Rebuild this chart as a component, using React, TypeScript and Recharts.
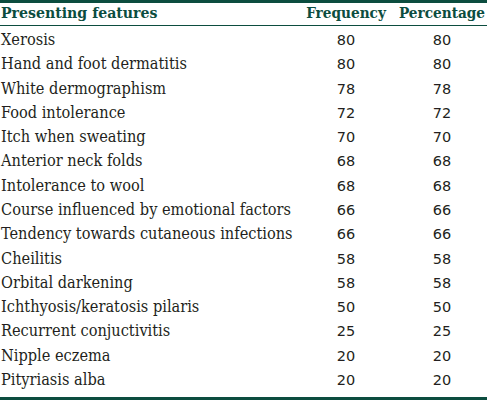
import { ScatterChart, Scatter, XAxis, YAxis, Customized } from 'recharts';

const features = [
  'Xerosis',
  'Hand and foot dermatitis',
  'White dermographism',
  'Food intolerance',
  'Itch when sweating',
  'Anterior neck folds',
  'Intolerance to wool',
  'Course influenced by emotional factors',
  'Tendency towards cutaneous infections',
  'Cheilitis',
  'Orbital darkening',
  'Ichthyosis/keratosis pilaris',
  'Recurrent conjuctivitis',
  'Nipple eczema',
  'Pityriasis alba',
];
const frequency = [80, 80, 78, 72, 70, 68, 68, 66, 66, 58, 58, 50, 25, 20, 20];
const percentage = [80, 80, 78, 72, 70, 68, 68, 66, 66, 58, 58, 50, 25, 20, 20];
const columns = ['Frequency', 'Percentage'];

const GREEN = '#0c4d3f';
const INK = '#231f20';
const SERIF = '"DejaVu Serif Condensed", "DejaVu Serif", serif';
const SANS = '"DejaVu Sans", Verdana, sans-serif';

const freqData = features.map((feature, i) => ({ col: columns[0], feature, value: frequency[i] }));
const pctData = features.map((feature, i) => ({ col: columns[1], feature, value: percentage[i] }));

const FeatureTick = (props: any) => (
  <text x={1} y={props.y} dy={5} fontFamily={SERIF} fontSize={16.2} fill={INK} textAnchor="start">
    {props.payload.value}
  </text>
);

const HeaderTick = (props: any) => (
  <text x={props.x} y={18} fontFamily={SERIF} fontWeight="bold" fontSize={15.2} fill={GREEN} textAnchor="middle">
    {props.payload.value}
  </text>
);

const Cell = (props: any) => (
  <text x={props.cx} y={props.cy} dy={5} fontFamily={SANS} fontSize={14.5} fill={INK} textAnchor="middle">
    {props.payload.value}
  </text>
);

const Rules = () => (
  <g>
    <rect x={0} y={0} width={487} height={3} fill={GREEN} />
    <rect x={0} y={25} width={487} height={1} fill={GREEN} />
    <rect x={0} y={397} width={487} height={3} fill={GREEN} />
    <text x={1} y={18} fontFamily={SERIF} fontWeight="bold" fontSize={15.7} fill={GREEN}>
      Presenting features
    </text>
  </g>
);

export default function App() {
  return (
    <div style={{ width: 487, height: 400, background: '#fff' }}>
      <style>{'body{margin:0}'}</style>
      <ScatterChart width={487} height={400} margin={{ top: 0, right: -3, bottom: 8, left: 0 }}>
        <XAxis
          type="category"
          dataKey="col"
          orientation="top"
          height={28}
          allowDuplicatedCategory={false}
          axisLine={false}
          tickLine={false}
          tick={<HeaderTick />}
        />
        <YAxis
          type="category"
          dataKey="feature"
          width={298}
          reversed
          allowDuplicatedCategory={false}
          axisLine={false}
          tickLine={false}
          interval={0}
          tick={<FeatureTick />}
        />
        <Scatter data={freqData} shape={<Cell />} isAnimationActive={false} />
        <Scatter data={pctData} shape={<Cell />} isAnimationActive={false} />
        <Customized component={<Rules />} />
      </ScatterChart>
    </div>
  );
}
